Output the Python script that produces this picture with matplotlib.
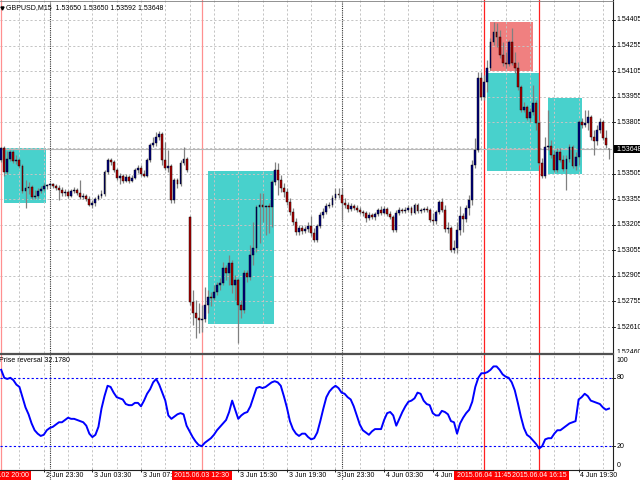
import matplotlib
matplotlib.use('Agg')
import matplotlib.pyplot as plt
from matplotlib.lines import Line2D
from matplotlib.patches import Rectangle
import numpy as np

plt.rcParams['font.family'] = ['Liberation Sans', 'DejaVu Sans']

# ---------------- data ----------------
opens = [1.53584, 1.53655, 1.53514, 1.53590, 1.53631, 1.53579, 1.53584, 1.53549, 1.53403, 1.53420,
         1.53426, 1.53368, 1.53373, 1.53403, 1.53414, 1.53432, 1.53438, 1.53444, 1.53432, 1.53420,
         1.53409, 1.53391, 1.53397, 1.53373, 1.53403, 1.53409, 1.53391, 1.53368, 1.53373, 1.53356,
         1.53321, 1.53332, 1.53356, 1.53373, 1.53385, 1.53514, 1.53584, 1.53573, 1.53526, 1.53479,
         1.53491, 1.53461, 1.53485, 1.53461, 1.53479, 1.53526, 1.53537, 1.53502, 1.53491, 1.53584,
         1.53672, 1.53684, 1.53719, 1.53737, 1.53584, 1.53537, 1.53549, 1.53350, 1.53467, 1.53444,
         1.53567, 1.53590, 1.53250, 1.52752, 1.52688, 1.52659, 1.52647, 1.52653, 1.52735, 1.52782,
         1.52776, 1.52811, 1.52852, 1.52864, 1.52952, 1.52922, 1.52981, 1.52852, 1.52881, 1.52735,
         1.52705, 1.52922, 1.52899, 1.53028, 1.53069, 1.53309, 1.53321, 1.53309, 1.53315, 1.53309,
         1.53455, 1.53526, 1.53467, 1.53420, 1.53397, 1.53338, 1.53280, 1.53221, 1.53162, 1.53186,
         1.53168, 1.53180, 1.53198, 1.53157, 1.53116, 1.53198, 1.53262, 1.53280, 1.53315, 1.53321,
         1.53362, 1.53385, 1.53379, 1.53332, 1.53321, 1.53297, 1.53315, 1.53303, 1.53291, 1.53280,
         1.53274, 1.53245, 1.53262, 1.53250, 1.53268, 1.53291, 1.53274, 1.53297, 1.53268, 1.53250,
         1.53174, 1.53274, 1.53291, 1.53286, 1.53291, 1.53303, 1.53274, 1.53321, 1.53286, 1.53291,
         1.53297, 1.53291, 1.53233, 1.53227, 1.53280, 1.53338, 1.53291, 1.53180, 1.53186, 1.53057,
         1.53069, 1.53174, 1.53256, 1.53239, 1.53303, 1.53350, 1.53555, 1.53643, 1.54065, 1.53954,
         1.54041, 1.54124, 1.54276, 1.54335, 1.54305, 1.54200, 1.54153, 1.54147, 1.54276, 1.54153,
         1.54124, 1.54012, 1.53877, 1.53895, 1.53831, 1.53866, 1.53918, 1.53801, 1.53567, 1.53491,
         1.53661, 1.53666, 1.53614, 1.53526, 1.53631, 1.53584, 1.53532, 1.53590, 1.53661, 1.53549,
         1.53602, 1.53807, 1.53790, 1.53801, 1.53836, 1.53719, 1.53696, 1.53760, 1.53807, 1.53713,
         1.53650]

highs = [1.53661, 1.53666, 1.53637, 1.53643, 1.53643, 1.53614, 1.53596, 1.53561, 1.53467, 1.53455,
         1.53438, 1.53409, 1.53420, 1.53432, 1.53450, 1.53444, 1.53450, 1.53450, 1.53444, 1.53438,
         1.53426, 1.53414, 1.53409, 1.53414, 1.53426, 1.53420, 1.53467, 1.53391, 1.53385, 1.53373,
         1.53350, 1.53368, 1.53385, 1.53409, 1.53526, 1.53596, 1.53596, 1.53584, 1.53537, 1.53508,
         1.53502, 1.53502, 1.53497, 1.53497, 1.53537, 1.53555, 1.53555, 1.53526, 1.53596, 1.53684,
         1.53719, 1.53749, 1.53754, 1.53749, 1.53690, 1.53643, 1.53561, 1.53479, 1.53479, 1.53584,
         1.53661, 1.53602, 1.53256, 1.52823, 1.52764, 1.52746, 1.52735, 1.52840, 1.52823, 1.52811,
         1.52852, 1.52869, 1.52893, 1.52987, 1.52969, 1.53028, 1.52998, 1.52911, 1.52893, 1.52764,
         1.52940, 1.52940, 1.53086, 1.53221, 1.53321, 1.53391, 1.53391, 1.53321, 1.53332, 1.53467,
         1.53573, 1.53567, 1.53497, 1.53450, 1.53420, 1.53362, 1.53303, 1.53245, 1.53204, 1.53204,
         1.53198, 1.53221, 1.53256, 1.53186, 1.53209, 1.53280, 1.53303, 1.53332, 1.53338, 1.53379,
         1.53420, 1.53420, 1.53420, 1.53362, 1.53338, 1.53332, 1.53327, 1.53321, 1.53309, 1.53291,
         1.53286, 1.53280, 1.53274, 1.53280, 1.53303, 1.53315, 1.53315, 1.53309, 1.53286, 1.53262,
         1.53291, 1.53309, 1.53303, 1.53309, 1.53321, 1.53315, 1.53332, 1.53332, 1.53303, 1.53309,
         1.53315, 1.53303, 1.53274, 1.53291, 1.53350, 1.53362, 1.53321, 1.53221, 1.53198, 1.53116,
         1.53221, 1.53315, 1.53274, 1.53321, 1.53379, 1.53584, 1.53713, 1.54100, 1.54100, 1.54083,
         1.54170, 1.54299, 1.54393, 1.54387, 1.54346, 1.54276, 1.54217, 1.54288, 1.54358, 1.54217,
         1.54159, 1.54024, 1.53924, 1.53907, 1.53889, 1.54024, 1.53936, 1.53819, 1.53596, 1.53719,
         1.53877, 1.53702, 1.53643, 1.53655, 1.53655, 1.53614, 1.53614, 1.53678, 1.53672, 1.53631,
         1.53819, 1.53831, 1.53877, 1.53877, 1.53848, 1.53760, 1.53790, 1.53831, 1.53819, 1.53760,
         1.53650]

lows = [1.53573, 1.53491, 1.53502, 1.53579, 1.53567, 1.53561, 1.53537, 1.53391, 1.53303, 1.53385,
        1.53356, 1.53356, 1.53362, 1.53391, 1.53403, 1.53414, 1.53420, 1.53420, 1.53409, 1.53350,
        1.53373, 1.53373, 1.53362, 1.53368, 1.53391, 1.53379, 1.53356, 1.53356, 1.53344, 1.53315,
        1.53303, 1.53315, 1.53350, 1.53362, 1.53373, 1.53502, 1.53555, 1.53514, 1.53467, 1.53444,
        1.53450, 1.53455, 1.53450, 1.53455, 1.53473, 1.53508, 1.53491, 1.53485, 1.53485, 1.53573,
        1.53661, 1.53666, 1.53702, 1.53555, 1.53526, 1.53514, 1.53332, 1.53332, 1.53420, 1.53432,
        1.53555, 1.53514, 1.52735, 1.52618, 1.52541, 1.52571, 1.52577, 1.52635, 1.52688, 1.52729,
        1.52764, 1.52793, 1.52823, 1.52852, 1.52881, 1.52852, 1.52805, 1.52764, 1.52512, 1.52659,
        1.52688, 1.52869, 1.52881, 1.52969, 1.53045, 1.53098, 1.53221, 1.53145, 1.53157, 1.53192,
        1.53438, 1.53379, 1.53397, 1.53368, 1.53321, 1.53262, 1.53204, 1.53145, 1.53145, 1.53151,
        1.53157, 1.53162, 1.53139, 1.53104, 1.53104, 1.53186, 1.53245, 1.53268, 1.53303, 1.53309,
        1.53350, 1.53362, 1.53233, 1.53303, 1.53280, 1.53286, 1.53291, 1.53280, 1.53268, 1.53256,
        1.53221, 1.53233, 1.53239, 1.53233, 1.53256, 1.53262, 1.53268, 1.53256, 1.53239, 1.53162,
        1.53162, 1.53262, 1.53274, 1.53274, 1.53280, 1.53262, 1.53268, 1.53274, 1.53274, 1.53280,
        1.53280, 1.53221, 1.53204, 1.53209, 1.53268, 1.53280, 1.53162, 1.53157, 1.53045, 1.53039,
        1.53039, 1.53145, 1.53162, 1.53221, 1.53262, 1.53321, 1.53537, 1.53631, 1.53936, 1.53936,
        1.53983, 1.54112, 1.54258, 1.54247, 1.54182, 1.54135, 1.54124, 1.54135, 1.54141, 1.54094,
        1.53995, 1.53866, 1.53866, 1.53819, 1.53807, 1.53848, 1.53760, 1.53555, 1.53479, 1.53479,
        1.53643, 1.53596, 1.53514, 1.53514, 1.53573, 1.53520, 1.53409, 1.53573, 1.53537, 1.53526,
        1.53555, 1.53772, 1.53778, 1.53760, 1.53702, 1.53614, 1.53672, 1.53743, 1.53702, 1.53655,
        1.53592]

closes = [1.53655, 1.53514, 1.53590, 1.53631, 1.53579, 1.53584, 1.53549, 1.53403, 1.53420, 1.53426,
          1.53368, 1.53373, 1.53403, 1.53414, 1.53432, 1.53438, 1.53444, 1.53432, 1.53420, 1.53409,
          1.53391, 1.53397, 1.53373, 1.53403, 1.53409, 1.53391, 1.53368, 1.53373, 1.53356, 1.53321,
          1.53332, 1.53356, 1.53373, 1.53385, 1.53514, 1.53584, 1.53573, 1.53526, 1.53479, 1.53491,
          1.53461, 1.53485, 1.53461, 1.53479, 1.53526, 1.53537, 1.53502, 1.53491, 1.53584, 1.53672,
          1.53684, 1.53719, 1.53737, 1.53584, 1.53537, 1.53549, 1.53350, 1.53467, 1.53444, 1.53567,
          1.53590, 1.53526, 1.52752, 1.52688, 1.52659, 1.52647, 1.52653, 1.52735, 1.52782, 1.52776,
          1.52811, 1.52852, 1.52864, 1.52952, 1.52922, 1.52981, 1.52852, 1.52881, 1.52735, 1.52705,
          1.52922, 1.52899, 1.53028, 1.53069, 1.53309, 1.53321, 1.53309, 1.53315, 1.53309, 1.53455,
          1.53526, 1.53467, 1.53420, 1.53397, 1.53338, 1.53280, 1.53221, 1.53162, 1.53186, 1.53168,
          1.53180, 1.53198, 1.53157, 1.53116, 1.53198, 1.53262, 1.53280, 1.53315, 1.53321, 1.53362,
          1.53385, 1.53379, 1.53332, 1.53321, 1.53297, 1.53315, 1.53303, 1.53291, 1.53280, 1.53274,
          1.53245, 1.53262, 1.53250, 1.53268, 1.53291, 1.53274, 1.53297, 1.53268, 1.53250, 1.53174,
          1.53274, 1.53291, 1.53286, 1.53291, 1.53303, 1.53274, 1.53321, 1.53286, 1.53291, 1.53297,
          1.53291, 1.53233, 1.53227, 1.53280, 1.53338, 1.53291, 1.53180, 1.53186, 1.53057, 1.53069,
          1.53174, 1.53256, 1.53239, 1.53303, 1.53350, 1.53555, 1.53643, 1.54065, 1.53954, 1.54041,
          1.54124, 1.54276, 1.54335, 1.54305, 1.54200, 1.54153, 1.54147, 1.54276, 1.54153, 1.54124,
          1.54012, 1.53877, 1.53895, 1.53831, 1.53866, 1.53918, 1.53801, 1.53567, 1.53491, 1.53661,
          1.53666, 1.53614, 1.53526, 1.53631, 1.53584, 1.53532, 1.53590, 1.53661, 1.53549, 1.53602,
          1.53807, 1.53790, 1.53801, 1.53836, 1.53719, 1.53696, 1.53760, 1.53807, 1.53713, 1.53672,
          1.53648]

reversal = [87, 80, 79, 80, 78, 74, 72, 63, 54, 48,
            40, 34, 31, 29, 30, 34, 36, 37, 39, 41,
            41, 43, 45, 44, 44, 43, 42, 41, 38, 31,
            28, 30, 37, 53, 64, 73, 72, 67, 63, 62,
            61, 57, 56, 56, 58, 58, 55, 60, 66, 70,
            76, 79, 74, 67, 60, 47, 44, 46, 48, 49,
            48, 38, 33, 28, 24, 21, 20, 23, 25, 27,
            30, 34, 37, 40, 43, 50, 60, 52, 44, 47,
            49, 50, 55, 63, 71, 72, 71, 72, 74, 76,
            77, 76, 73, 64, 54, 42, 35, 31, 29, 31,
            31, 28, 26, 27, 32, 42, 53, 63, 68, 71,
            73, 71, 67, 66, 63, 61, 55, 47, 39, 34,
            32, 30, 33, 35, 35, 35, 43, 49, 50, 47,
            38, 44, 50, 55, 59, 60, 62, 67, 66, 60,
            57, 56, 49, 47, 47, 51, 50, 48, 42, 41,
            31, 40, 45, 49, 52, 59, 72, 80, 84, 84,
            85, 87, 90, 90, 87, 83, 81, 80, 76, 69,
            58, 46, 36, 30, 28, 25, 22, 18, 20, 26,
            27, 27, 31, 34, 34, 36, 38, 40, 41, 42,
            61, 63, 66, 64, 60, 59, 58, 57, 54, 52,
            53]

# rectangles (bar index from/to, price top/bottom)
rect_x0 = [0.9, 68.0, 160.0, 179.8, 160.8]
rect_x1 = [14.7, 89.9, 177.0, 191.1, 174.9]
rect_top = [1.53657, 1.53520, 1.54093, 1.53950, 1.54395]
rect_bot = [1.53331, 1.52622, 1.53522, 1.53502, 1.54108]
rect_kind = ['buy', 'buy', 'buy', 'buy', 'sell']

price_tick_vals = [1.54405, 1.54255, 1.54105, 1.53955, 1.53805, 1.53505, 1.53355,
                   1.53205, 1.53055, 1.52905, 1.52755, 1.52605, 1.52455]
price_tick_labels = ['1.54405', '1.54255', '1.54105', '1.53955', '1.53805', '1.53505', '1.53355',
                     '1.53205', '1.53055', '1.52905', '1.52755', '1.52610', '1.52460']
grid_prices = [1.54405, 1.54255, 1.54105, 1.53955, 1.53805, 1.53655, 1.53505, 1.53355,
               1.53205, 1.53055, 1.52905, 1.52755, 1.52605, 1.52455]
current_price = 1.53648

time_label_bars = [14, 30, 46, 78, 94, 110, 126, 142, 190]
time_label_text = ['2 Jun 23:30', '3 Jun 03:30', '3 Jun 07:30', '3 Jun 15:30',
                   '3 Jun 19:30', '3 Jun 23:30', '4 Jun 03:30', '4 Jun 07:30', '4 Jun 19:30']
grid_bars = list(range(6, 201, 8))
day_sep_bars = [16, 112]
marker_bars = [0, 66, 159, 177]
marker_text = ['2015.06.02 20:00', '2015.06.03 12:30', '2015.06.04 11:45', '2015.06.04 16:15']
marker_strong = [False, False, True, True]

ind_levels = [80, 20]
ind_tick_vals = [95.6, 80, 20, 3.5]
ind_tick_labels = ['100', '80', '20', '0']

# ---------------- layout ----------------
W, H = 640, 480
fig = plt.figure(figsize=(6.4, 4.8), dpi=100)
fig.patch.set_facecolor('white')


def prect(x0, y0, x1, y1):
    return [x0 / W, 1 - y1 / H, (x1 - x0) / W, (y1 - y0) / H]


CHART_R = 612
X0_PX, BAR_PX = 1.2, 3.039
xlim = (-X0_PX / BAR_PX, (CHART_R - X0_PX) / BAR_PX)
P_TOP, P_BOT = 1.54522, 1.52453

ax = fig.add_axes(prect(0, 0, CHART_R, 353))
ax_i = fig.add_axes(prect(0, 355, CHART_R, 469))
ax_t = fig.add_axes(prect(0, 469, CHART_R, 480))
ax_p = fig.add_axes(prect(CHART_R, 0, W, 353))
ax_ip = fig.add_axes(prect(CHART_R, 355, W, 469))
for a in (ax, ax_i, ax_t, ax_p, ax_ip):
    a.axis('off')
ax.set_xlim(xlim); ax.set_ylim(P_BOT, P_TOP)
ax_i.set_xlim(xlim); ax_i.set_ylim(0, 100)
ax_t.set_xlim(xlim); ax_t.set_ylim(0, 11)
ax_p.set_xlim(0, 28); ax_p.set_ylim(P_BOT, P_TOP)
ax_ip.set_xlim(0, 28); ax_ip.set_ylim(0, 100)

GRID_C = '#C4C4C4'
GRID_LS = (0, (2.2, 2.2))

# rectangles
for x0, x1, t, b, k in zip(rect_x0, rect_x1, rect_top, rect_bot, rect_kind):
    col = '#48D1CC' if k == 'buy' else '#F08080'
    ax.add_patch(Rectangle((x0, b), x1 - x0, t - b, facecolor=col, edgecolor='none', zorder=0.5))

# grid
for gb in grid_bars:
    for a in (ax, ax_i):
        a.axvline(gb, color=GRID_C, lw=0.7, ls=GRID_LS, zorder=1)
for gp in grid_prices:
    ax.axhline(gp, color=GRID_C, lw=0.7, ls=GRID_LS, zorder=1)

# day separators
for sb in day_sep_bars:
    for a in (ax, ax_i, ax_t):
        a.axvline(sb, color='#303030', lw=0.8, ls=(0, (1.0, 1.0)), zorder=1.5)

# red vertical markers
for mb, strong in zip(marker_bars, marker_strong):
    col = '#FF2020' if strong else '#FF9090'
    for a in (ax, ax_i, ax_t):
        a.axvline(mb, color=col, lw=0.9, zorder=1.6)

# current price line
ax.axhline(current_price, color='#B8B8B8', lw=0.8, zorder=2)

# candles
x = np.arange(len(closes))
o = np.array(opens); c = np.array(closes); hi = np.array(highs); lo = np.array(lows)
ax.vlines(x, lo, hi, colors='#808080', lw=0.9, zorder=3)
body_h = c - o
body_h = np.where(np.abs(body_h) < 1e-6, 0.000015, body_h)
cols = np.where(c >= o, '#000080', '#B00000')
ax.bar(x, body_h, bottom=o, width=0.62, color=cols, edgecolor='#000000', linewidth=0.3, zorder=4)

# indicator
for lv in ind_levels:
    ax_i.axhline(lv, color='#0000FF', lw=0.8, ls=(0, (2, 2)), zorder=2)
ax_i.plot(x, reversal, color='#0000FF', lw=1.4, zorder=3, solid_joinstyle='round')

# price scale
for v, s in zip(price_tick_vals, price_tick_labels):
    ax_p.plot([0, 3], [v, v], color='black', lw=0.6)
    ax_p.text(4.5, v, s, fontsize=5, va='center', ha='left', clip_on=True)
ax_p.add_patch(Rectangle((0.6, current_price - 0.00023), 27.4, 0.00046, facecolor='black',
                         edgecolor='none', zorder=5))
ax_p.text(4.5, current_price, '1.53648', fontsize=5, va='center', ha='left', color='white', zorder=6)

# indicator scale
for v, s in zip(ind_tick_vals, ind_tick_labels):
    if s in ('80', '20'):
        ax_ip.plot([0, 3], [v, v], color='black', lw=0.6)
    ax_ip.text(4.5, v, s, fontsize=5, va='center', ha='left')

# time axis
ax_t.vlines(time_label_bars, 8.5, 11, colors='black', lw=0.6)
for b, s in zip(time_label_bars, time_label_text):
    ax_t.text(b + 0.6, 4.6, s, fontsize=5, va='center', ha='left', zorder=3)
half_w = 9.9
for mb, s in zip(marker_bars, marker_text):
    ax_t.add_patch(Rectangle((mb - half_w, 0), 2 * half_w, 9.3, facecolor='#FF0000',
                             edgecolor='none', zorder=5))
    ax_t.text(mb, 4.6, s, fontsize=5, va='center', ha='center', color='white', zorder=6)

# frame lines
fl = dict(transform=fig.transFigure)
fig.add_artist(Line2D([CHART_R / W + 0.0008] * 2, [1 - 469.5 / H, 1], color='#202020', lw=0.8, **fl))
fig.add_artist(Line2D([0, CHART_R / W + 0.0008], [1 - 469.5 / H] * 2, color='#202020', lw=0.8, **fl))
fig.add_artist(Line2D([0, CHART_R / W + 0.0008], [1 - 0.6 / H] * 2, color='#808080', lw=0.6, **fl))
fig.add_artist(Line2D([0, CHART_R / W + 0.0008], [1 - 354 / H] * 2, color='#505050', lw=1.6, **fl))

# header texts
fig.add_artist(Line2D([2.2 / W], [1 - 7.5 / H], marker='v', markersize=2.2, color='black', **fl))
fig.text(6.5 / W, 1 - 7.5 / H, 'GBPUSD,M15  1.53650 1.53650 1.53592 1.53648', fontsize=5,
         va='center', ha='left')
fig.text(-1 / W, 1 - 361 / H, 'Prise reversal 32.1780', fontsize=5, va='center', ha='left')

fig.savefig('out.png', dpi=100)
